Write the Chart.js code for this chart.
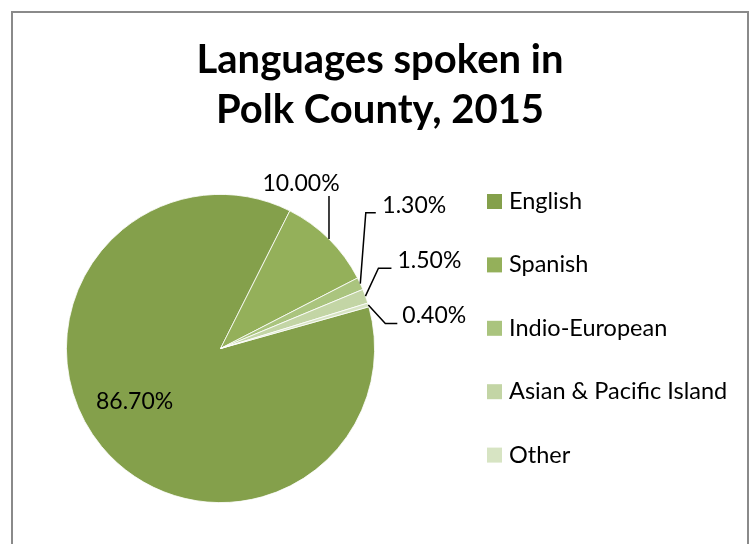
<!DOCTYPE html>
<html>
<head>
<meta charset="utf-8">
<title>Languages spoken in Polk County, 2015</title>
<script src="https://cdn.jsdelivr.net/npm/chart.js@4.4.0/dist/chart.umd.min.js"></script>
<style>
  html, body { margin: 0; padding: 0; background: #fff; }
  #wrap { width: 754px; height: 544px; }
</style>
</head>
<body>
<div id="wrap"><canvas id="langChart" width="754" height="544"></canvas></div>
<script>
// --- data ---
const languages = ['English', 'Spanish', 'Indio-European', 'Asian & Pacific Island', 'Other'];
const shares = [86.7, 10.0, 1.3, 1.5, 0.4];
const shareLabels = ['86.70%', '10.00%', '1.30%', '1.50%', '0.40%'];
const titleLines = ['Languages spoken in', 'Polk County, 2015'];

const sliceColors = ['#84a04b', '#94b05a', '#aac47e', '#c3d5a5', '#d7e4c3'];
const FONT = 'Lato, "Open Sans", sans-serif';

// where each data label sits, relative to the slice's outer mid point
// elbow = bend of leader line, tail = end of horizontal piece, text = label anchor
const labelLayout = [
    { text: [33, -45], align: 'center' },
    { elbow: [0, -43], tail: 0, text: [-28, -55], align: 'center' },
    { elbow: [5.5, -71], tail: 15.5, text: [22, -78], align: 'left' },
    { elbow: [13, -28], tail: 26, text: [32, -35.5], align: 'left' },
    { elbow: [17, 18.5], tail: 29, text: [34, 11], align: 'left' }
];

// frame around the whole chart + the title (centred on the whole box,
// not on the pie area, so it is drawn here rather than by the title plugin)
const framePlugin = {
    id: 'frame',
    beforeDraw(chart) {
        const ctx = chart.ctx;
        ctx.save();
        ctx.fillStyle = '#fff';
        ctx.fillRect(0, 0, chart.width, chart.height);
        ctx.strokeStyle = '#8a8a8a';
        ctx.lineWidth = 2;
        ctx.strokeRect(12, 12, 736, 600);

        ctx.fillStyle = '#000';
        ctx.font = 'bold 40px ' + FONT;
        ctx.textAlign = 'center';
        ctx.textBaseline = 'alphabetic';
        titleLines.forEach((line, i) => {
            ctx.fillText(line, 380, 73 + i * 50);
        });
        ctx.restore();
    }
};

// percentage labels with leader lines
const pieLabels = {
    id: 'pieLabels',
    afterDatasetsDraw(chart) {
        const ctx = chart.ctx;
        const arcs = chart.getDatasetMeta(0).data;
        ctx.save();
        ctx.font = '23px ' + FONT;
        ctx.fillStyle = '#000';
        ctx.strokeStyle = '#000';
        ctx.lineWidth = 1.5;
        ctx.textBaseline = 'middle';
        arcs.forEach((arc, i) => {
            const p = arc.getProps(['x', 'y', 'startAngle', 'endAngle', 'outerRadius'], true);
            const mid = (p.startAngle + p.endAngle) / 2;
            const ax = p.x + Math.cos(mid) * p.outerRadius;
            const ay = p.y + Math.sin(mid) * p.outerRadius;
            const lay = labelLayout[i];
            if (lay.elbow) {
                ctx.beginPath();
                ctx.moveTo(ax, ay);
                ctx.lineTo(ax + lay.elbow[0], ay + lay.elbow[1]);
                ctx.lineTo(ax + lay.tail, ay + lay.elbow[1]);
                ctx.stroke();
            }
            ctx.textAlign = lay.align;
            ctx.fillText(shareLabels[i], ax + lay.text[0], ay + lay.text[1]);
        });
        ctx.restore();
    }
};

// legend on the right, spaced out like the original
const sideLegend = {
    id: 'sideLegend',
    afterDraw(chart) {
        const ctx = chart.ctx;
        const colors = chart.data.datasets[0].backgroundColor;
        ctx.save();
        ctx.font = '23.5px ' + FONT;
        ctx.textBaseline = 'middle';
        ctx.textAlign = 'left';
        chart.data.labels.forEach((name, i) => {
            const y = 201.5 + i * 63.4;
            ctx.fillStyle = colors[i];
            ctx.fillRect(487, y - 7.5, 15, 15);
            ctx.fillStyle = '#000';
            ctx.fillText(name, 509, y);
        });
        ctx.restore();
    }
};

document.addEventListener('DOMContentLoaded', function () {
    const ctx = document.getElementById('langChart').getContext('2d');
    new Chart(ctx, {
        type: 'pie',
        data: {
            labels: languages,
            datasets: [{
                data: shares,
                backgroundColor: sliceColors,
                borderColor: '#fff',
                borderWidth: 0.8
            }]
        },
        options: {
            responsive: false,
            animation: false,
            rotation: 74.3,
            layout: {
                padding: { left: 66, right: 379, top: 194, bottom: 41 }
            },
            plugins: {
                legend: { display: false },
                tooltip: { enabled: false },
                title: { display: false }
            }
        },
        plugins: [framePlugin, pieLabels, sideLegend]
    });
});
</script>
</body>
</html>
